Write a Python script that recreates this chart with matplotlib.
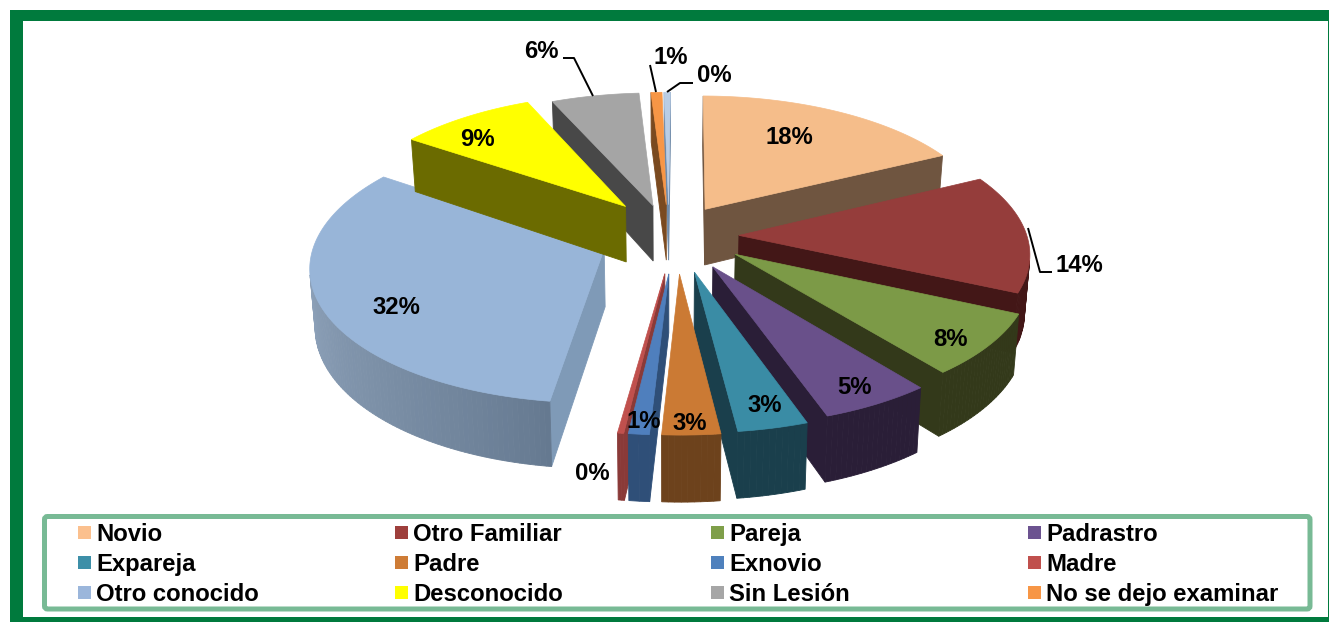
import numpy as np
import matplotlib
matplotlib.use("Agg")
import matplotlib.pyplot as plt
from matplotlib.patches import Polygon, Rectangle, FancyBboxPatch
from matplotlib.colors import to_rgb

plt.rcParams['font.family'] = ['Liberation Sans', 'DejaVu Sans']

# ---- data ----
categories = ["Novio", "Otro Familiar", "Pareja", "Padrastro", "Expareja", "Padre",
              "Exnovio", "Madre", "Otro conocido", "Desconocido", "Sin Lesión",
              "No se dejo examinar", "Otro"]
values = [17.5, 14.2, 7.5, 5.4, 3.4, 2.8, 1.0, 0.3, 32.4, 8.8, 5.6, 0.7, 0.4]
pct_labels = ["18%", "14%", "8%", "5%", "3%", "3%", "1%", "0%", "32%", "9%", "6%", "1%", "0%"]
top_colors = ["#F5BD8A", "#953D3B", "#7C9A47", "#69508A", "#3A8CA5", "#CB7A34",
              "#4F7FBD", "#C0504D", "#98B5D8", "#FFFF00", "#A5A5A5", "#F79646", "#B9CDE5"]
wall_colors = ["#6F5540", "#431717", "#33391A", "#2A1E37", "#1A3F4C", "#6D421C",
               "#2F4F78", "#8A3A38", "#7F9AB7", "#6B6B00", "#484848", "#7A4A20", "#6F8AA8"]
legend_colors = ["#FBC08E", "#9E3F3C", "#7F9F4A", "#6C5390", "#3D8FA8", "#CE7C36",
                 "#4F81BD", "#C0504D", "#9BB6DB", "#FFFF00", "#A6A6A6", "#F79646"]
legend_count = 12
label_pos = [(789, 138), (1079, 265), (951, 339), (854, 387), (765, 405), (690, 424),
             (644, 421), (592, 474), (396, 308), (477, 140), (541, 51), (671, 58), (714, 76)]
leaders = [[(1028, 228), (1040, 272), (1052, 272)],
           [(563, 58), (574, 58), (593, 96)],
           [(650, 65), (656, 92)],
           [(693, 83), (680, 83), (667, 92)]]
draw_order = [12, 11, 10, 8, 9, 0, 1, 2, 3, 4, 5, 7, 6]

# ---- projection parameters ----
CX, CY = 669, 236
R, EXPL, K, D, H = 288, 70, 0.46, 2457, 57
ROTATION = np.deg2rad(0.4)
slice_shift = {2: (10, -4), 3: (9, 4), 4: (9, 8), 5: (8, 10), 6: (6, 10), 7: (5, 10), 9: (0, -12)}
GREEN = "#007A3D"

W, Ht = 1329, 622
fig = plt.figure(figsize=(W / 100, Ht / 100), dpi=100)
ax = fig.add_axes([0, 0, 1, 1])
ax.set_xlim(0, W)
ax.set_ylim(Ht, 0)
ax.axis("off")

# frame
ax.add_patch(Rectangle((10, 10), W - 10, Ht - 10, fc=GREEN, ec="none"))
ax.add_patch(Rectangle((23, 21), W - 1.5 - 23, 617 - 21, fc="white", ec="none"))


def project(X, Y, bottom=False):
    s = D / (D - Y)
    if bottom:
        return CX + s * X * 0.985, CY + s * K * Y + H * s
    return CX + s * X, CY + s * K * Y


def mix(c, d, t):
    a, b = np.array(to_rgb(c)), np.array(to_rgb(d))
    return tuple(a + (b - a) * t)


fractions = np.array(values) / np.sum(values)
edges = ROTATION + np.concatenate([[0], np.cumsum(fractions)]) * 2 * np.pi


def slice_outline(i):
    a0, a1 = edges[i], edges[i + 1]
    mid = (a0 + a1) / 2
    dx, dy = slice_shift.get(i, (0, 0))
    ox, oy = EXPL * np.sin(mid) + dx, -EXPL * np.cos(mid) + dy
    ang = np.linspace(a0, a1, max(3, int((a1 - a0) * 60)))
    xs = np.concatenate([[ox], ox + R * np.sin(ang)])
    ys = np.concatenate([[oy], oy - R * np.cos(ang)])
    return xs, ys


for i in draw_order:
    xs, ys = slice_outline(i)
    n = len(xs)
    tx, ty = project(xs, ys)
    bx, by = project(xs, ys, bottom=True)
    for j in range(n):
        k = (j + 1) % n
        quad = np.array([[tx[j], ty[j]], [tx[k], ty[k]], [bx[k], by[k]], [bx[j], by[j]]])
        area = np.sum(quad[:, 0] * np.roll(quad[:, 1], -1) - np.roll(quad[:, 0], -1) * quad[:, 1])
        if area >= 0:
            continue
        col = wall_colors[i]
        if i == 8 and 0 < j < n - 1:
            col = mix("#64788F", "#A0B4CC", (j / (n - 1)) ** 0.8)
        ax.add_patch(Polygon(quad, closed=True, fc=col, ec=col, lw=0.6))
    ax.add_patch(Polygon(np.column_stack([tx, ty]), closed=True, fc=top_colors[i],
                         ec=top_colors[i], lw=0.5))

# data labels
for txt, (x, y) in zip(pct_labels, label_pos):
    ax.text(x, y, txt, ha="center", va="center", fontsize=17.2, fontweight="bold", color="black")
for line in leaders:
    p = np.array(line)
    ax.plot(p[:, 0], p[:, 1], color="black", lw=1.4, solid_capstyle="butt")

# legend
ax.add_patch(FancyBboxPatch((44.5, 516.5), 1265.5, 92.5, boxstyle="round,pad=0,rounding_size=3",
                            fc="white", ec="#78BA95", lw=3.6))
col_x = [78, 395, 711, 1028]
row_y = [533, 563, 593]
for i in range(legend_count):
    x = col_x[i % 4]
    y = row_y[i // 4]
    ax.add_patch(Rectangle((x, y - 7), 13, 13, fc=legend_colors[i], ec="none"))
    ax.text(x + 18.2, y + 8, categories[i], ha="left", va="baseline", fontsize=17.2,
            fontweight="bold", color="black")

fig.savefig("out.png", dpi=100)
